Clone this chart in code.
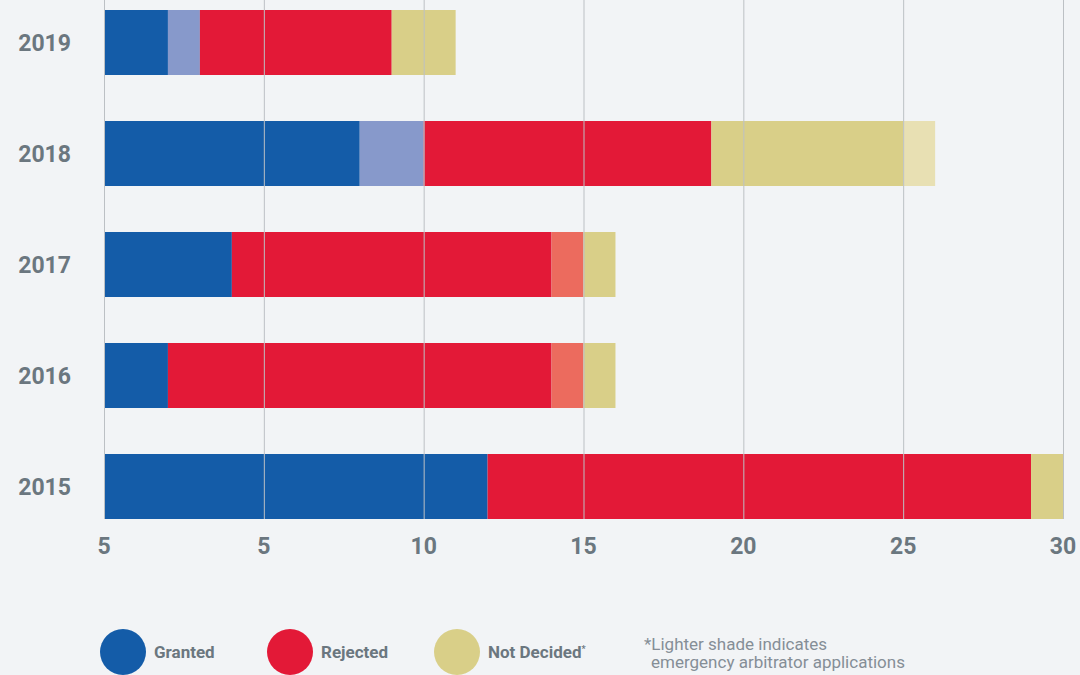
<!DOCTYPE html>
<html>
<head>
<meta charset="utf-8">
<script src="https://cdn.jsdelivr.net/npm/d3@7"></script>
<style>
	html, body { margin: 0; padding: 0; background: #f2f4f6; }
	svg { display: block; font-family: Roboto, "Noto Sans", sans-serif; }
</style>
</head>
<body>
<div id="chart"></div>
<script>
// data
const years = ["2019", "2018", "2017", "2016", "2015"];
const granted = [2, 8, 4, 2, 12];
const grantedEA = [1, 2, 0, 0, 0];
const rejected = [6, 9, 10, 12, 17];
const rejectedEA = [0, 0, 1, 1, 0];
const notDecided = [2, 6, 1, 1, 1];
const notDecidedEA = [0, 1, 0, 0, 0];
const tickValues = [0, 5, 10, 15, 20, 25, 30];
const tickLabels = ["5", "5", "10", "15", "20", "25", "30"];
const legendLabels = ["Granted", "Rejected", "Not Decided"];

const width = 1080;
const height = 675;
const margin = { top: 10, left: 104, right: 17, bottom: 156 };

const keys = ["granted", "grantedEA", "rejected", "rejectedEA", "notDecided", "notDecidedEA"];
const colors = {
	granted: "#145ca8",
	grantedEA: "#8799cb",
	rejected: "#e31937",
	rejectedEA: "#ec6b5e",
	notDecided: "#d9cf88",
	notDecidedEA: "#e8e0b3"
};

const rows = years.map((y, i) => ({
	year: y,
	granted: granted[i],
	grantedEA: grantedEA[i],
	rejected: rejected[i],
	rejectedEA: rejectedEA[i],
	notDecided: notDecided[i],
	notDecidedEA: notDecidedEA[i]
}));

const svg = d3
	.select("#chart")
	.append("svg")
	.attr("width", width)
	.attr("height", height);

const x = d3
	.scaleLinear()
	.domain([0, 30])
	.range([margin.left, width - margin.right]);

const y = d3
	.scaleBand()
	.domain(years)
	.range([margin.top, height - margin.bottom])
	.paddingInner(46 / 111)
	.paddingOuter(0);

const stack = d3.stack().keys(keys)(rows);

//bars
svg
	.append("g")
	.selectAll("g")
	.data(stack)
	.join("g")
	.attr("fill", d => colors[d.key])
	.selectAll("rect")
	.data(d => d)
	.join("rect")
	.attr("x", d => x(d[0]))
	.attr("y", d => y(d.data.year))
	.attr("width", d => x(d[1]) - x(d[0]))
	.attr("height", y.bandwidth());

//grid lines drawn over the bars
svg
	.append("g")
	.selectAll("line")
	.data(tickValues)
	.join("line")
	.attr("x1", d => x(d) + 0.5)
	.attr("x2", d => x(d) + 0.5)
	.attr("y1", 0)
	.attr("y2", height - margin.bottom)
	.attr("stroke", "#bcc0c4")
	.attr("stroke-width", 1);

//x tick labels
svg
	.append("g")
	.selectAll("text")
	.data(tickValues)
	.join("text")
	.attr("x", d => x(d))
	.attr("y", 554)
	.attr("text-anchor", "middle")
	.attr("fill", "#6b777f")
	.attr("font-size", "23px")
	.attr("font-weight", "bold")
	.text((d, i) => tickLabels[i]);

//year labels
svg
	.append("g")
	.selectAll("text")
	.data(years)
	.join("text")
	.attr("x", 71)
	.attr("y", d => y(d) + y.bandwidth() / 2 + 8)
	.attr("text-anchor", "end")
	.attr("fill", "#6b777f")
	.attr("font-size", "23px")
	.attr("font-weight", "bold")
	.text(d => d);

//legend
const legend = svg
	.append("g")
	.selectAll("g")
	.data(legendLabels)
	.join("g")
	.attr("transform", (d, i) => `translate(${123 + i * 167}, 652)`);

legend
	.append("circle")
	.attr("r", 23)
	.attr("fill", (d, i) => colors[["granted", "rejected", "notDecided"][i]]);

const legendText = legend
	.append("text")
	.attr("x", 31)
	.attr("y", 6)
	.attr("fill", "#6b777f")
	.attr("font-size", "17px")
	.attr("font-weight", "bold")
	.text(d => d);

legendText
	.filter((d, i) => i === 2)
	.append("tspan")
	.attr("dy", -6)
	.attr("font-size", "9px")
	.text("*");

const note = svg
	.append("text")
	.attr("x", 644)
	.attr("y", 650)
	.attr("fill", "#858e96")
	.attr("font-size", "17px");

note.append("tspan").attr("x", 644).text("*Lighter shade indicates");
note.append("tspan").attr("x", 651).attr("dy", 18).text("emergency arbitrator applications");
</script>
</body>
</html>
